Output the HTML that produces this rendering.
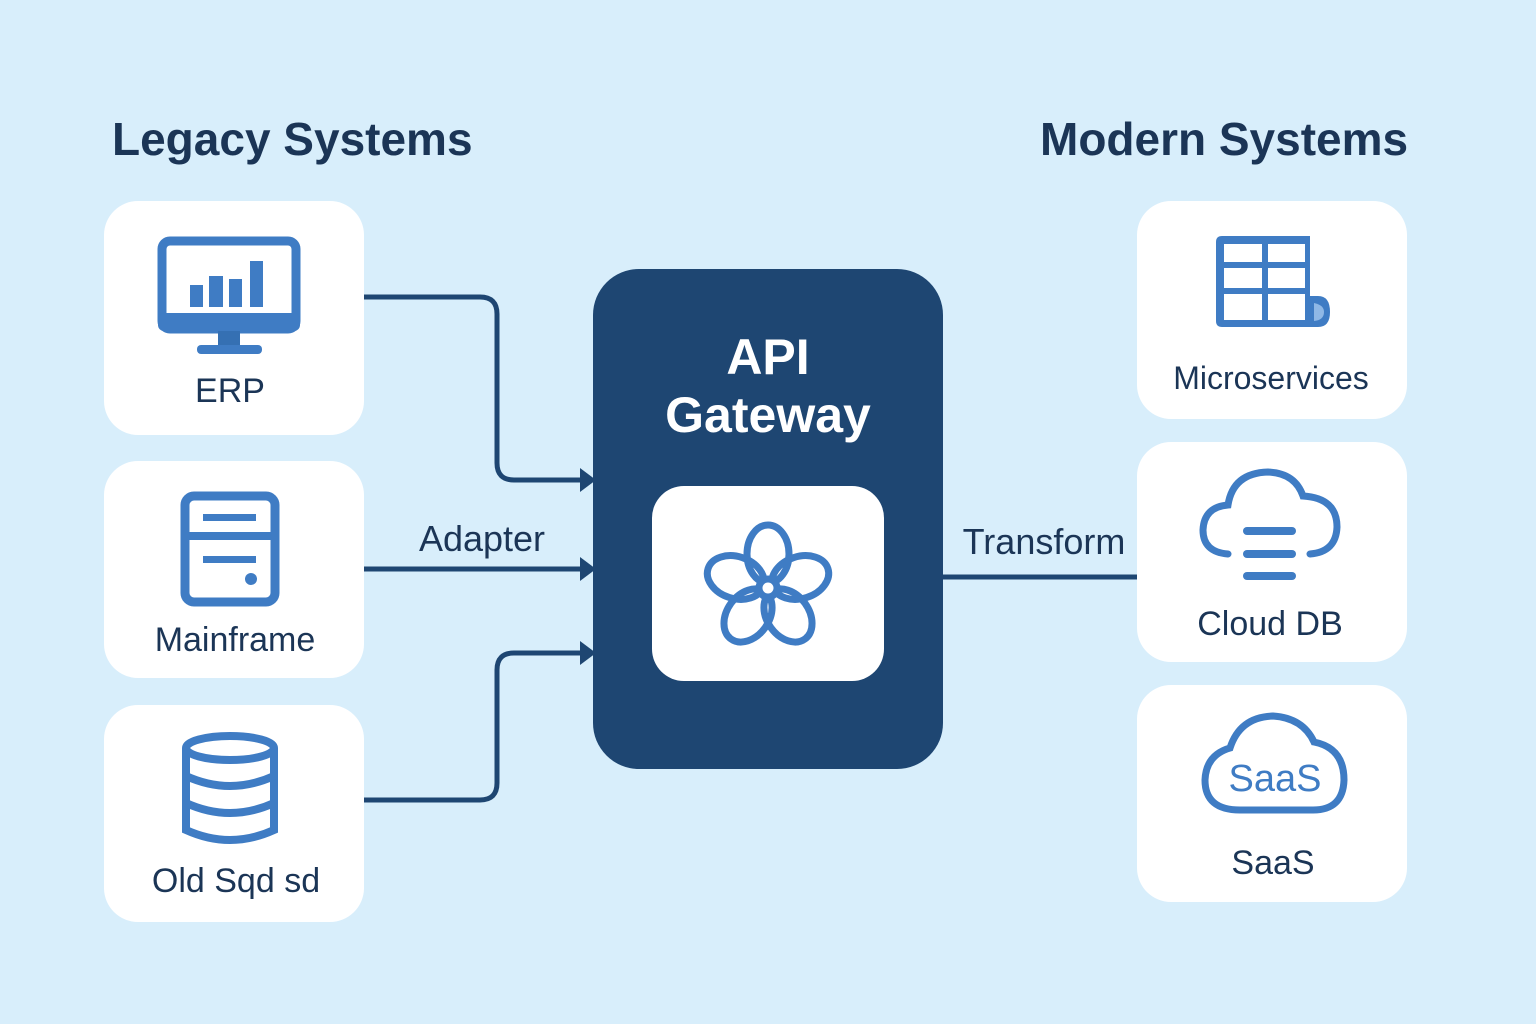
<!DOCTYPE html>
<html><head><meta charset="utf-8"><style>
html,body{margin:0;padding:0;background:#d8eefb;}
svg{display:block}
text{font-family:"Liberation Sans",sans-serif;}
</style></head><body>
<svg width="1536" height="1024" viewBox="0 0 1536 1024" xmlns="http://www.w3.org/2000/svg">
<rect width="1536" height="1024" fill="#d8eefb"/>
<text x="112" y="155" font-size="46" font-weight="bold" fill="#1b3556">Legacy Systems</text>
<text x="1040" y="155" font-size="46" font-weight="bold" fill="#1b3556">Modern Systems</text>

<!-- left boxes -->
<rect x="104" y="201" width="260" height="234" rx="34" fill="#fff"/>
<rect x="104" y="461" width="260" height="217" rx="34" fill="#fff"/>
<rect x="104" y="705" width="260" height="217" rx="34" fill="#fff"/>
<!-- right boxes -->
<rect x="1137" y="201" width="270" height="218" rx="34" fill="#fff"/>
<rect x="1137" y="442" width="270" height="220" rx="34" fill="#fff"/>
<rect x="1137" y="685" width="270" height="217" rx="34" fill="#fff"/>

<!-- connectors -->
<g fill="none" stroke="#1e4672" stroke-width="5">
<path d="M364 297 H480 Q497 297 497 314 V463 Q497 480 514 480 H588"/>
<path d="M364 569 H588"/>
<path d="M364 800 H480 Q497 800 497 783 V670 Q497 653 514 653 H588"/>
<path d="M943 577 H1137"/>
</g>
<g fill="#1e4672">
<path d="M580 468 L596 480 L580 492 Z"/>
<path d="M580 557 L596 569 L580 581 Z"/>
<path d="M580 641 L596 653 L580 665 Z"/>
</g>
<text x="482" y="551" font-size="36" text-anchor="middle" fill="#1b3556">Adapter</text>
<text x="1044" y="554" font-size="36" text-anchor="middle" fill="#1b3556">Transform</text>

<!-- gateway -->
<rect x="593" y="269" width="350" height="500" rx="46" fill="#1e4672"/>
<text x="768" y="374" font-size="50" font-weight="bold" fill="#fff" text-anchor="middle">API</text>
<text x="768" y="432" font-size="50" font-weight="bold" fill="#fff" text-anchor="middle">Gateway</text>
<rect x="652" y="486" width="232" height="195" rx="32" fill="#fff"/>
<g fill="none" stroke="#3f7cc4" stroke-width="7" transform="translate(768 588)">
<ellipse cx="0" cy="-34" rx="21" ry="29"/>
<ellipse cx="0" cy="-34" rx="21" ry="29" transform="rotate(72)"/>
<ellipse cx="0" cy="-34" rx="21" ry="29" transform="rotate(144)"/>
<ellipse cx="0" cy="-34" rx="21" ry="29" transform="rotate(216)"/>
<ellipse cx="0" cy="-34" rx="21" ry="29" transform="rotate(288)"/>
<circle r="9" fill="#fff"/>
</g>

<!-- ERP icon -->
<rect x="162" y="241" width="134" height="88" rx="8" fill="none" stroke="#3f7cc4" stroke-width="9"/>
<rect x="158" y="313" width="142" height="18" rx="6" fill="#3f7cc4"/>
<rect x="218" y="331" width="22" height="14" fill="#3570b3"/>
<rect x="197" y="345" width="65" height="9" rx="4" fill="#3f7cc4"/>
<g fill="#3f7cc4">
<rect x="190" y="285" width="13" height="22"/><rect x="209" y="276" width="14" height="31"/><rect x="229" y="279" width="13" height="28"/><rect x="250" y="261" width="13" height="46"/>
</g>
<text x="230" y="402" font-size="34" text-anchor="middle" fill="#1b3556">ERP</text>

<!-- Mainframe icon -->
<rect x="185" y="496" width="90" height="106" rx="9" fill="none" stroke="#3f7cc4" stroke-width="9"/>
<line x1="185" y1="536" x2="275" y2="536" stroke="#3f7cc4" stroke-width="8"/>
<rect x="203" y="514" width="53" height="7" fill="#3f7cc4"/>
<rect x="203" y="556" width="53" height="7" fill="#3f7cc4"/>
<circle cx="251" cy="579" r="6" fill="#3f7cc4"/>
<text x="235" y="651" font-size="34" text-anchor="middle" fill="#1b3556">Mainframe</text>

<!-- DB icon -->
<g fill="none" stroke="#3f7cc4" stroke-width="8">
<ellipse cx="230" cy="748" rx="44" ry="12"/>
<path d="M186 748 V830 Q230 850 274 830 V748"/>
<path d="M186 776 Q230 796 274 776"/>
<path d="M186 803 Q230 823 274 803"/>
</g>
<text x="236" y="892" font-size="34" text-anchor="middle" fill="#1b3556">Old Sqd sd</text>

<!-- Microservices icon -->
<path d="M1222 236 H1310 V296 H1318 Q1330 296 1330 312 Q1330 327 1318 327 H1222 Q1216 327 1216 321 V242 Q1216 236 1222 236 Z" fill="#3f7cc4"/>
<g fill="#fff">
<rect x="1224" y="244" width="38" height="18"/><rect x="1268" y="244" width="37" height="18"/>
<rect x="1224" y="268" width="38" height="20"/><rect x="1268" y="268" width="37" height="20"/>
<rect x="1224" y="294" width="38" height="26"/><rect x="1268" y="294" width="37" height="26"/>
</g>
<path d="M1314 303 Q1324 305 1324 312 Q1324 320 1314 321 Z" fill="#8fb8e6"/>
<text x="1271" y="389" font-size="32" text-anchor="middle" fill="#1b3556">Microservices</text>

<!-- Cloud DB icon -->
<path d="M1228 554 Q1203 552 1203 530 Q1204 507 1228 505 Q1233 473 1268 472 Q1295 473 1303 496 Q1337 498 1337 527 Q1336 552 1310 554" fill="none" stroke="#3f7cc4" stroke-width="7" stroke-linecap="round"/>
<g stroke="#3f7cc4" stroke-width="8" stroke-linecap="round">
<line x1="1247" y1="531" x2="1292" y2="531"/><line x1="1247" y1="554" x2="1292" y2="554"/><line x1="1247" y1="576" x2="1292" y2="576"/>
</g>
<text x="1270" y="635" font-size="34" text-anchor="middle" fill="#1b3556">Cloud DB</text>

<!-- SaaS icon -->
<path d="M1240 810 Q1205 810 1205 780 Q1206 755 1230 748 Q1240 717 1273 716 Q1303 718 1314 742 Q1344 748 1344 780 Q1343 810 1313 810 Z" fill="none" stroke="#3f7cc4" stroke-width="7"/>
<text x="1275" y="791" font-size="38" text-anchor="middle" fill="#3f7cc4">SaaS</text>
<text x="1273" y="874" font-size="34" text-anchor="middle" fill="#1b3556">SaaS</text>
</svg>
</body></html>
